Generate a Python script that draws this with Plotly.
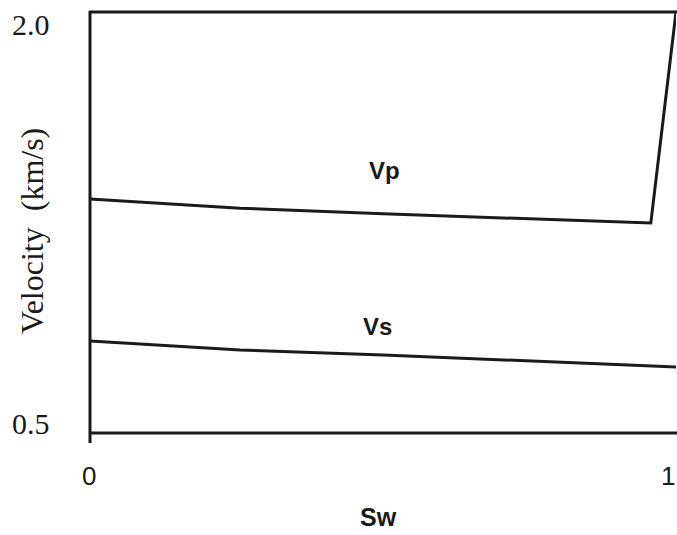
import plotly.graph_objects as go

# Water saturation (fraction) and velocities (km/s)
sw_vp = [0.0, 0.256, 0.5, 0.957, 1.0]
vp = [1.334, 1.301, 1.281, 1.248, 2.0]
sw_vs = [0.0, 0.256, 0.5, 1.0]
vs = [0.828, 0.796, 0.778, 0.735]

y_ticks = [0.5, 2.0]
y_tick_text = ["0.5", "2.0"]
x_ticks = [0, 1]
x_tick_text = ["0", "1"]

ink = "#1a1a1a"
serif = "Liberation Serif, Times New Roman, serif"
sans = "Liberation Sans, Arial, sans-serif"

fig = go.Figure()
fig.add_trace(go.Scatter(x=sw_vp, y=vp, mode="lines", cliponaxis=False,
                         line=dict(color=ink, width=3), hoverinfo="skip"))
fig.add_trace(go.Scatter(x=sw_vs, y=vs, mode="lines", cliponaxis=False,
                         line=dict(color=ink, width=3), hoverinfo="skip"))

# Frame: left axis (with a short stub below), top and bottom lines
fig.add_shape(type="line", xref="paper", yref="paper", x0=0, x1=0, y0=-0.024, y1=1.003,
              line=dict(color=ink, width=3))
fig.add_shape(type="line", xref="paper", yref="paper", x0=0, x1=1.01, y0=1, y1=1,
              line=dict(color=ink, width=3))
fig.add_shape(type="line", xref="paper", yref="paper", x0=0, x1=1.01, y0=0, y1=0,
              line=dict(color=ink, width=3))

ann = []
for v, t in zip(y_ticks, y_tick_text):
    ann.append(dict(x=0, y=v, xref="x", yref="y", text=t, showarrow=False,
                    xanchor="center", yanchor="middle", xshift=-59,
                    yshift=10 if v == 0.5 else -12,
                    font=dict(family=serif, size=30, color=ink)))
for v, t in zip(x_ticks, x_tick_text):
    ann.append(dict(x=v, y=0.5, xref="x", yref="y", text=t, showarrow=False,
                    xanchor="center", yanchor="middle",
                    xshift=-1 if v == 0 else -8, yshift=-43,
                    font=dict(family=sans, size=26, color=ink)))

ann.append(dict(x=0.503, y=1.437, xref="x", yref="y", text="<b>Vp</b>", showarrow=False,
                xanchor="center", yanchor="middle",
                font=dict(family=sans, size=24, color=ink)))
ann.append(dict(x=0.49, y=0.878, xref="x", yref="y", text="<b>Vs</b>", showarrow=False,
                xanchor="center", yanchor="middle",
                font=dict(family=sans, size=24, color=ink)))
ann.append(dict(x=0.493, y=0.5, xref="x", yref="y", text="<b>Sw</b>", showarrow=False,
                xanchor="center", yanchor="middle", yshift=-84,
                font=dict(family=sans, size=25, color=ink)))
ann.append(dict(x=0, y=1.22, xref="x", yref="y", text="Velocity  (km/s)", showarrow=False,
                xanchor="center", yanchor="middle", xshift=-58, textangle=-90,
                font=dict(family=serif, size=32, color=ink)))

fig.update_layout(
    width=677, height=535,
    margin=dict(l=90, r=1, t=12, b=102),
    paper_bgcolor="white", plot_bgcolor="white",
    showlegend=False,
    xaxis=dict(range=[0, 1], visible=False, fixedrange=True),
    yaxis=dict(range=[0.5, 2.0], visible=False, fixedrange=True),
    annotations=ann,
)

fig.write_html("out.html")
